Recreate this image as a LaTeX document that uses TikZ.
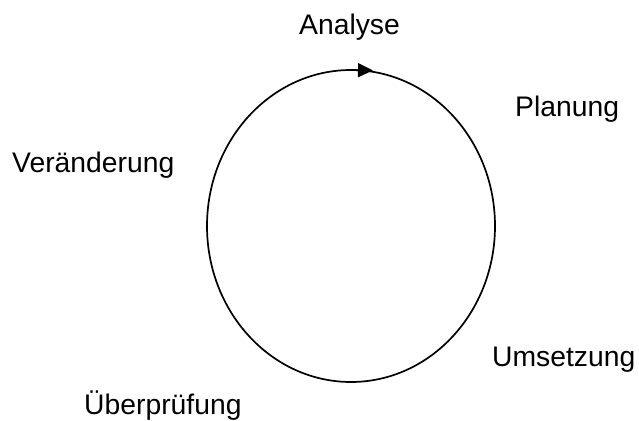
\documentclass[tikz,border=0pt]{standalone}
\usepackage{fontspec}
\setmainfont{Liberation Sans}
\usetikzlibrary{arrows.meta}
\begin{document}
\begin{tikzpicture}[x=1pt,y=-1pt,
  lbl/.style={anchor=base west,inner sep=0pt,font=\fontsize{28.3}{34}\selectfont},
  cyc/.style={line width=1.7pt}]
\useasboundingbox (0,0) rectangle (639,420);
\draw[cyc] (351,226) ellipse [x radius=144, y radius=156];
\coordinate (tailA) at (346,70);
\coordinate (tipA) at (373,70.4);
\draw[cyc,-{Triangle[length=15pt,width=14pt]}] (tailA) -- (tipA);
\node[lbl] (analyse) at (299,34.5) {Analyse};
\node[lbl] (planung) at (515,116) {Planung};
\node[lbl] (veraend) at (12,172.5) {Veränderung};
\node[lbl] (umsetz) at (492,366) {Umsetzung};
\node[lbl] (ueberpr) at (84,414.5) {Überprüfung};
\end{tikzpicture}
\end{document}
